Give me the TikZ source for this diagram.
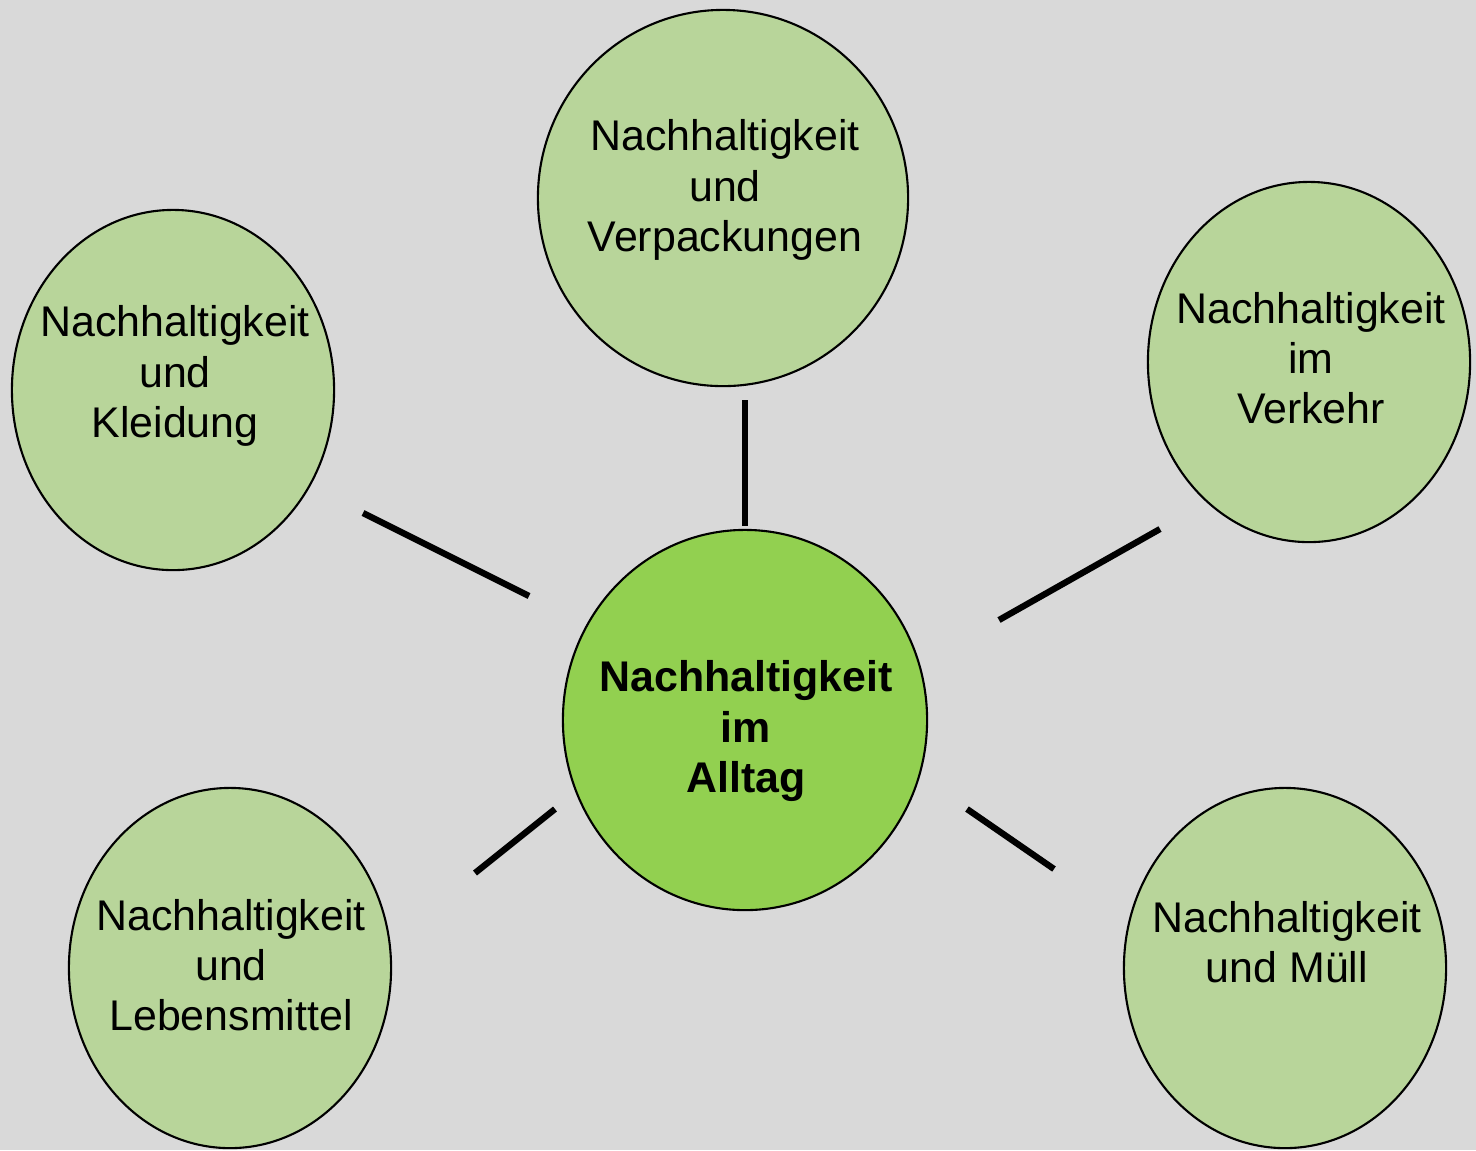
\documentclass[tikz,border=0pt]{standalone}
\usepackage{fontspec}
\setmainfont{Liberation Sans}
\usetikzlibrary{shapes.geometric}
\definecolor{bgGray}{HTML}{D9D9D9}
\definecolor{leafGreen}{HTML}{B8D59A}
\definecolor{coreGreen}{HTML}{92D050}
\begin{document}
\begin{tikzpicture}[x=0.01cm,y=-0.01cm]
		\newcommand*{\spokeWidth}{1.8pt}
		\tikzset{
			leaf/.style={ellipse,draw,line width=0.6pt,fill=leafGreen,minimum width=3.22cm,minimum height=3.6cm},
			core/.style={ellipse,draw,line width=0.6pt,fill=coreGreen,minimum width=3.64cm,minimum height=3.8cm},
			caption/.style={align=center,font=\fontsize{12.2pt}{14.3pt}\selectfont},
			spoke/.style={line width=\spokeWidth}
		}

		\fill[bgGray] (0,0) rectangle (1476,1150);
		\useasboundingbox (0,0) rectangle (1476,1150);

		% circles
		\node[leaf,minimum width=3.7cm,minimum height=3.76cm] (Pack) at (723,198) {};
		\node[leaf] (Cloth) at (173,390) {};
		\node[leaf] (Traffic) at (1309,362) {};
		\node[leaf] (Food) at (230,968) {};
		\node[leaf] (Waste) at (1285,968) {};
		\node[core] (Core) at (745,720) {};

		% texts
		\node[caption] (PackText) at (725,190) {Nachhaltigkeit\\und\\Verpackungen};
		\node[caption] (ClothText) at (175,376) {Nachhaltigkeit\\und\\Kleidung};
		\node[caption] (TrafficText) at (1311,358) {Nachhaltigkeit\\im\\Verkehr};
		\node[caption] (FoodText) at (231,965) {Nachhaltigkeit\\und\\Lebensmittel};
		\node[caption] (WasteText) at (1287,942) {Nachhaltigkeit\\und Müll};
		\node[caption,font=\fontsize{12.2pt}{14.3pt}\selectfont\bfseries] (CoreText) at (746,731) {Nachhaltigkeit\\im\\Alltag};

		% spokes
		\coordinate(PackA) at (745,400);
		\coordinate(PackB) at (745,526);
		\coordinate(ClothA) at (363,513);
		\coordinate(ClothB) at (529,596);
		\coordinate(TrafficA) at (1160,529);
		\coordinate(TrafficB) at (999,620);
		\coordinate(FoodA) at (555,809);
		\coordinate(FoodB) at (475,873);
		\coordinate(WasteA) at (967,809);
		\coordinate(WasteB) at (1054,869);

		\draw[spoke] (PackA) -- (PackB);
		\draw[spoke] (ClothA) -- (ClothB);
		\draw[spoke] (TrafficA) -- (TrafficB);
		\draw[spoke] (FoodA) -- (FoodB);
		\draw[spoke] (WasteA) -- (WasteB);
\end{tikzpicture}
\end{document}
